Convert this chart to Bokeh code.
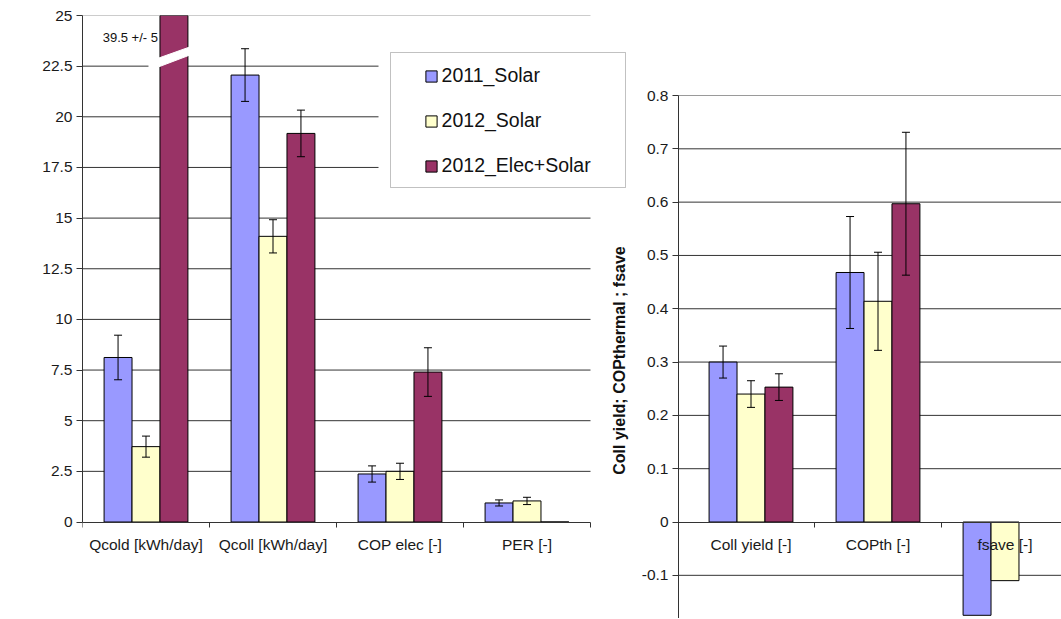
import math
import numpy as np
from bokeh.plotting import figure
from bokeh.models import (Range1d, LinearAxis, FixedTicker, PrintfTickFormatter,
                          ColumnDataSource, Legend, LegendItem, Label, BoxAnnotation)
from bokeh.embed import file_html
from bokeh.resources import INLINE

nan = float("nan")

# ---------------- data ----------------
series_names = ["2011_Solar", "2012_Solar", "2012_Elec+Solar"]
series_colors = ["#9999FF", "#FFFFCC", "#993366"]

left_categories = ["Qcold [kWh/day]", "Qcoll [kWh/day]", "COP elec [-]", "PER [-]"]
left_2011 = [8.12, 22.06, 2.37, 0.94]
left_2011_err = [1.10, 1.30, 0.40, 0.15]
left_2012 = [3.72, 14.10, 2.50, 1.04]
left_2012_err = [0.52, 0.82, 0.40, 0.18]
left_2012es = [39.5, 19.18, 7.40, 0.0]
left_2012es_err = [5.0, 1.15, 1.20, nan]

right_categories = ["Coll yield [-]", "COPth [-]", "fsave [-]"]
right_2011 = [0.300, 0.468, -0.175]
right_2011_err = [0.030, 0.105, nan]
right_2012 = [0.240, 0.414, -0.110]
right_2012_err = [0.025, 0.092, nan]
right_2012es = [0.253, 0.597, nan]
right_2012es_err = [0.025, 0.134, nan]

left_ticks = [0, 2.5, 5, 7.5, 10, 12.5, 15, 17.5, 20, 22.5, 25]
right_ticks = [-0.1, 0.0, 0.1, 0.2, 0.3, 0.4, 0.5, 0.6, 0.7, 0.8]

left_ylabel = "Electrical COP ; Qcold ; Qcoll and PER"
right_ylabel = "Coll yield; COPthermal ; fsave"

# ---------------- layout ----------------
FONT = "Liberation Sans"
UNIT = 127.0              # px per category
FRAME_W, FRAME_H = 979, 603
BORDER_L, BORDER_T = 82, 15
PAGE_X0 = BORDER_L        # page x of frame left
PAGE_Y0 = BORDER_T        # page y of frame top
ZERO_PX = 506.5           # frame px from top to zero line
LEFT_MAX = left_ticks[-1]
RIGHT_MAX = right_ticks[-1]
RIGHT_MAX_PX = 80.0
lpx = ZERO_PX / LEFT_MAX
rpx = (ZERO_PX - RIGHT_MAX_PX) / RIGHT_MAX
x_end = FRAME_W / UNIT
ly0 = -(FRAME_H - ZERO_PX) / lpx
ry0 = -(FRAME_H - ZERO_PX) / rpx
ry1 = ZERO_PX / rpx


def fx(page_x):
    return (page_x - PAGE_X0) / UNIT


def fyl(page_y):
    return (PAGE_Y0 + ZERO_PX - page_y) / lpx


def fyr(page_y):
    return (PAGE_Y0 + ZERO_PX - page_y) / rpx


RIGHT_AXIS_X = fx(678)
RIGHT_START = fx(687)
BAR_W = 0.22
OFFSETS = [-BAR_W, 0.0, BAR_W]

p = figure(frame_width=FRAME_W, frame_height=FRAME_H,
           x_range=Range1d(0, x_end), y_range=Range1d(ly0, LEFT_MAX),
           x_axis_type=None, y_axis_type=None,
           toolbar_location=None, output_backend="svg",
           min_border_left=BORDER_L, min_border_top=BORDER_T,
           min_border_right=0, min_border_bottom=0,
           outline_line_color=None, background_fill_color="white",
           border_fill_color="white")
p.extra_y_ranges = {"right": Range1d(ry0, ry1)}

# gridlines
lg = [t for t in left_ticks if t != 0]
p.segment(x0=[0] * len(lg), x1=[len(left_categories)] * len(lg), y0=lg, y1=lg,
          line_color=["#9a9a9a" if t == LEFT_MAX else "#333333" for t in lg], line_width=1)
rg = [t for t in right_ticks if t != 0]
p.segment(x0=[RIGHT_AXIS_X] * len(rg), x1=[x_end] * len(rg), y0=rg, y1=rg,
          line_color=["#9a9a9a" if t == RIGHT_MAX else "#333333" for t in rg], line_width=1,
          y_range_name="right")


def draw_group(ncat, vals_list, errs_list, x_start, yr):
    rends = []
    for i, (vals, errs) in enumerate(zip(vals_list, errs_list)):
        v = np.array(vals, dtype=float)
        e = np.array(errs, dtype=float)
        xs = np.array([x_start + c + 0.5 + OFFSETS[i] for c in range(ncat)])
        src = ColumnDataSource(dict(x=xs, top=v, lo=v - e, hi=v + e))
        r = p.vbar(x="x", top="top", bottom=0, width=BAR_W, source=src,
                   fill_color=series_colors[i], line_color="black", line_width=1,
                   y_range_name=yr)
        p.segment(x0="x", y0="lo", x1="x", y1="hi", source=src,
                  line_color="black", line_width=1, y_range_name=yr)
        for col in ("lo", "hi"):
            p.scatter(x="x", y=col, marker="dash", size=8, source=src,
                      line_color="black", line_width=1, y_range_name=yr)
        rends.append(r)
    return rends


left_r = draw_group(len(left_categories), [left_2011, left_2012, left_2012es],
                    [left_2011_err, left_2012_err, left_2012es_err], 0.0, "default")
right_r = draw_group(len(right_categories), [right_2011, right_2012, right_2012es],
                     [right_2011_err, right_2012_err, right_2012es_err], RIGHT_START, "right")

# axis break on the out-of-scale bar
bx = 0.5 + OFFSETS[2]
half = BAR_W / 2
p.patch([bx - half - 11 / UNIT, bx + half + 6 / UNIT, bx + half + 6 / UNIT, bx - half - 11 / UNIT],
        [fyl(70), fyl(53), fyl(45), fyl(61)],
        fill_color="white", line_color="white", line_width=1)
p.add_layout(Label(x=bx - half - 2 / UNIT, y=fyl(37),
                   text=f"{left_2012es[0]:g} +/- {left_2012es_err[0]:g}",
                   text_align="right", text_baseline="middle",
                   text_font=FONT, text_font_size="13px", text_color="#111111"))


def style_axis(ax, is_x):
    ax.axis_line_color = "#333333"
    ax.axis_line_width = 1
    ax.major_tick_line_color = "#333333"
    ax.minor_tick_line_color = "#333333"
    ax.major_label_text_font = FONT
    ax.major_label_text_font_size = "15.5px"
    ax.major_label_text_color = "#1a1a1a"
    if is_x:
        ax.major_tick_out = 0
        ax.major_tick_in = 0
        ax.minor_tick_out = 5
        ax.minor_tick_in = 0
        ax.major_label_standoff = 9
    else:
        ax.major_tick_out = 6
        ax.major_tick_in = 0
        ax.minor_tick_out = 0
        ax.minor_tick_in = 0
        ax.major_label_standoff = 4


ly = LinearAxis(bounds=(0, LEFT_MAX), ticker=FixedTicker(ticks=left_ticks),
                formatter=PrintfTickFormatter(format="%g"))
style_axis(ly, False)
p.add_layout(ly, "left")

ry = LinearAxis(y_range_name="right", fixed_location=RIGHT_AXIS_X, bounds=(ry0, RIGHT_MAX),
                ticker=FixedTicker(ticks=right_ticks), formatter=PrintfTickFormatter(format="%g"))
style_axis(ry, False)
p.add_layout(ry, "left")

lcent = [round(c + 0.5, 4) for c in range(len(left_categories))]
lx = LinearAxis(fixed_location=0, bounds=(0, len(left_categories)),
                ticker=FixedTicker(ticks=lcent, minor_ticks=list(range(len(left_categories) + 1))),
                major_label_overrides={c: n for c, n in zip(lcent, left_categories)})
style_axis(lx, True)
p.add_layout(lx, "below")

rcent = [round(RIGHT_START + c + 0.5, 4) for c in range(len(right_categories))]
rbound = [round(RIGHT_START + c, 4) for c in range(1, len(right_categories))]
rx = LinearAxis(y_range_name="right", fixed_location=0, bounds=(RIGHT_AXIS_X, x_end),
                ticker=FixedTicker(ticks=rcent, minor_ticks=rbound),
                major_label_overrides={c: n for c, n in zip(rcent, right_categories)})
style_axis(rx, True)
p.add_layout(rx, "below")

# axis titles
p.add_layout(Label(x=fx(17.5), y=LEFT_MAX / 2, text=left_ylabel, angle=math.pi / 2,
                   text_align="center", text_baseline="middle", text_font=FONT,
                   text_font_style="bold", text_font_size="16px", text_color="#111111"))
p.add_layout(Label(x=fx(618.5), y=fyr(360), y_range_name="right", text=right_ylabel,
                   angle=math.pi / 2, text_align="center", text_baseline="middle",
                   text_font=FONT, text_font_style="bold", text_font_size="16px",
                   text_color="#111111"))

# legend box
p.add_layout(BoxAnnotation(left=fx(378), right=fx(626), top=fyl(48), bottom=fyl(191),
                           fill_color="white", fill_alpha=1, line_alpha=0))
p.add_layout(BoxAnnotation(left=fx(390), right=fx(625), top=fyl(52), bottom=fyl(187),
                           fill_alpha=0, line_color="#333333", line_width=1))

legend = Legend(items=[LegendItem(label=n, renderers=[r]) for n, r in zip(series_names, left_r)],
                location=(423.6 - PAGE_X0, PAGE_Y0 + FRAME_H - 177),
                padding=0, margin=0, spacing=22, label_height=22,
                glyph_height=14, glyph_width=14, label_standoff=4,
                border_line_color=None, background_fill_alpha=0,
                label_text_font=FONT, label_text_font_size="19.5px",
                label_text_color="#111111")
p.add_layout(legend)

open("out.html", "w").write(file_html(p, INLINE, "chart"))
